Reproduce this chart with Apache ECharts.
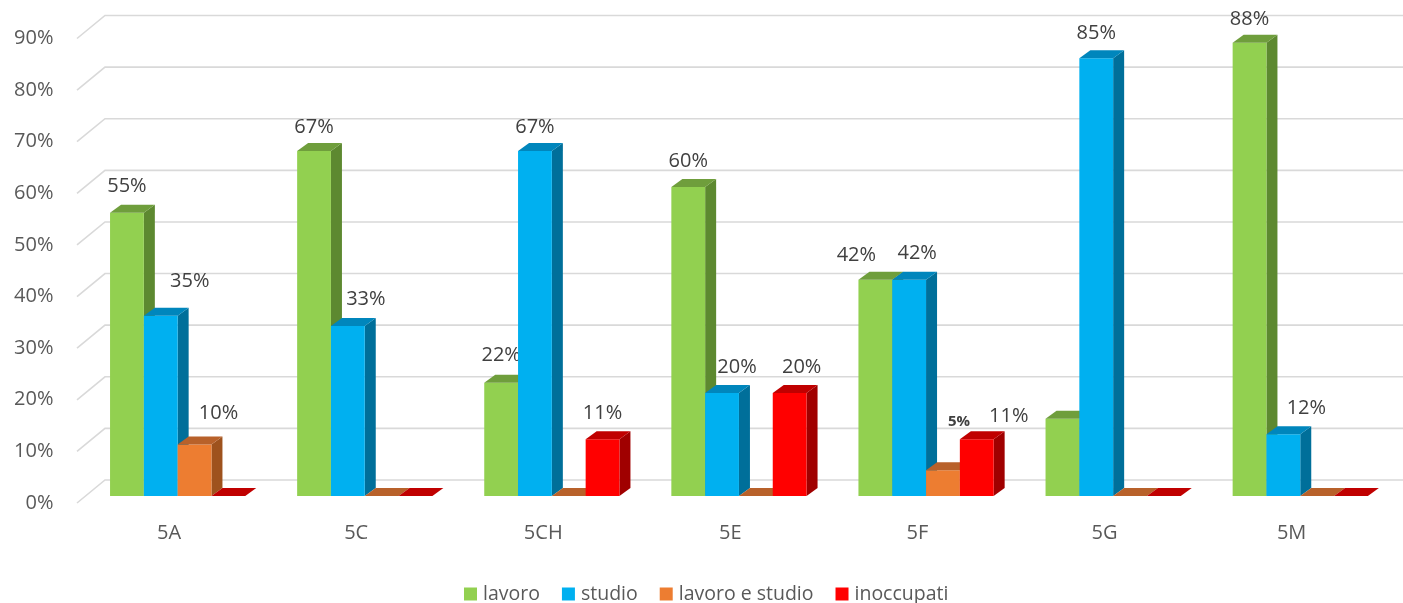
<!DOCTYPE html>
<html>
<head>
<meta charset="utf-8">
<script src="https://cdn.jsdelivr.net/npm/echarts@6/dist/echarts.min.js"></script>
<style>
  html, body { margin: 0; padding: 0; background: #ffffff; }
  #chart { width: 1403px; height: 603px; }
</style>
</head>
<body>
<div id="chart"></div>
<script>
// Classes and outcome shares (percent)
const categories = ['5A', '5C', '5CH', '5E', '5F', '5G', '5M'];
const lavoro = [55, 67, 22, 60, 42, 15, 88];
const studio = [35, 33, 67, 20, 42, 85, 12];
const lavoroStudio = [10, 0, 0, 0, 5, 0, 0];
const inoccupati = [0, 0, 11, 20, 11, 0, 0];
const yTicks = [0, 10, 20, 30, 40, 50, 60, 70, 80, 90];

const FONT = '"Open Sans", "DejaVu Sans", sans-serif';

// Face colours of the extruded columns: front, top, side
const palette = [
  { name: 'lavoro', data: lavoro, front: '#92D050', top: '#6F9E3C', side: '#5D8930' },
  { name: 'studio', data: studio, front: '#00B0F0', top: '#0086BC', side: '#006F9A' },
  { name: 'lavoro e studio', data: lavoroStudio, front: '#ED7D31', top: '#B8612A', side: '#9E521D' },
  { name: 'inoccupati', data: inoccupati, front: '#FF0000', top: '#C00000', side: '#A00000' }
];

// Data-label placement tweaks [dx, dy] relative to the column's top, per series/class
const labelShift = {
  '0,0': [0, -26], '1,0': [29, -34], '2,0': [24, -31],
  '0,1': [0, -24], '1,1': [18, -27],
  '0,2': [0, -27], '1,2': [0, -24], '3,2': [0, -26],
  '0,3': [0, -26], '1,3': [15, -26], '3,3': [12, -26],
  '0,4': [-19, -24], '1,4': [8, -26], '2,4': [16, -49], '3,4': [32, -23],
  '1,5': [0, -25],
  '0,6': [0, -24], '1,6': [23, -26]
};
const hiddenLabels = { '0,5': true };
const smallBoldLabels = { '2,4': true };

const DEPTH_X = 11, DEPTH_Y = -8;   // column extrusion
const WALL_X = 28, WALL_Y = -23;    // back wall offset from the floor front edge

function barRenderer(s, p) {
  return function (params, api) {
    const k = api.value(0), v = api.value(1);
    const base = api.coord([k, 0]);
    const topPt = api.coord([k, v]);
    const band = api.size([1, 0])[0];
    const bw = band / 5.535;
    const x0 = base[0] - 2 * bw + s * bw;
    const x1 = x0 + bw;
    const yb = base[1], yt = topPt[1];
    const children = [];
    if (yb - yt > 0.5) {
      children.push({ type: 'polygon', shape: { points: [[x1, yt], [x1 + DEPTH_X, yt + DEPTH_Y], [x1 + DEPTH_X, yb + DEPTH_Y], [x1, yb]] }, style: { fill: p.side } });
      children.push({ type: 'rect', shape: { x: x0, y: yt, width: bw, height: yb - yt }, style: { fill: p.front } });
    }
    children.push({ type: 'polygon', shape: { points: [[x0, yt], [x1, yt], [x1 + DEPTH_X, yt + DEPTH_Y], [x0 + DEPTH_X, yt + DEPTH_Y]] }, style: { fill: p.top } });
    const key = s + ',' + k;
    if (v > 0 && !hiddenLabels[key]) {
      const sh = labelShift[key] || [0, -25];
      const small = smallBoldLabels[key];
      children.push({
        type: 'text',
        style: {
          text: v + '%',
          x: (x0 + x1) / 2 + sh[0],
          y: yt + sh[1],
          align: 'center',
          verticalAlign: 'middle',
          fill: '#404040',
          font: (small ? 'bold 15px ' : '20px ') + FONT
        }
      });
    }
    return { type: 'group', children: children };
  };
}

function wallRenderer(params, api) {
  const cs = params.coordSys;
  const y = api.coord([0, api.value(1)])[1];
  const xf = cs.x + 1.5;
  return {
    type: 'polyline',
    shape: { points: [[xf, y], [xf + WALL_X, y + WALL_Y], [cs.x + cs.width + 25, y + WALL_Y]] },
    style: { stroke: '#D9D9D9', lineWidth: 1.6, fill: null }
  };
}

const chart = echarts.init(document.getElementById('chart'), null, { renderer: 'canvas' });

const series = [{
  type: 'custom',
  name: 'wall',
  xAxisIndex: 1,
  yAxisIndex: 1,
  silent: true,
  clip: false,
  z: 1,
  renderItem: wallRenderer,
  encode: { x: 0, y: 1 },
  data: yTicks.map(t => [0, t])
}];

palette.forEach((p, s) => {
  series.push({
    type: 'custom',
    name: p.name,
    xAxisIndex: 0,
    yAxisIndex: 0,
    clip: false,
    z: 2,
    itemStyle: { color: p.front },
    renderItem: barRenderer(s, p),
    encode: { x: 0, y: 1 },
    data: p.data.map((v, k) => [k, v])
  });
});

chart.setOption({
  animation: false,
  backgroundColor: '#ffffff',
  grid: [
    // front plane of the columns
    { left: 84.1, width: 1309.7, top: 32.5, bottom: 107 },
    // front edge of the floor (axis labels)
    { left: 75.5, width: 1309.7, top: 38.5, bottom: 100 }
  ],
  xAxis: [
    { type: 'category', gridIndex: 0, data: categories, show: false },
    {
      type: 'category', gridIndex: 1, data: categories,
      axisLine: { show: false }, axisTick: { show: false },
      axisLabel: { color: '#595959', fontSize: 20, fontFamily: FONT, margin: 20 }
    }
  ],
  yAxis: [
    { type: 'value', gridIndex: 0, min: 0, max: 90, interval: 10, show: false },
    {
      type: 'value', gridIndex: 1, min: 0, max: 90, interval: 10,
      axisLine: { show: false }, axisTick: { show: false }, splitLine: { show: false },
      axisLabel: { color: '#595959', fontSize: 20, fontFamily: FONT, margin: 22, formatter: '{value}%' }
    }
  ],
  legend: {
    data: palette.map(p => p.name),
    top: 579,
    left: 459,
    icon: 'rect',
    itemWidth: 13,
    itemHeight: 13,
    itemGap: 22,
    textStyle: { color: '#595959', fontSize: 19.5, fontFamily: FONT, padding: [0, 0, 0, 1] }
  },
  series: series
});
</script>
</body>
</html>
